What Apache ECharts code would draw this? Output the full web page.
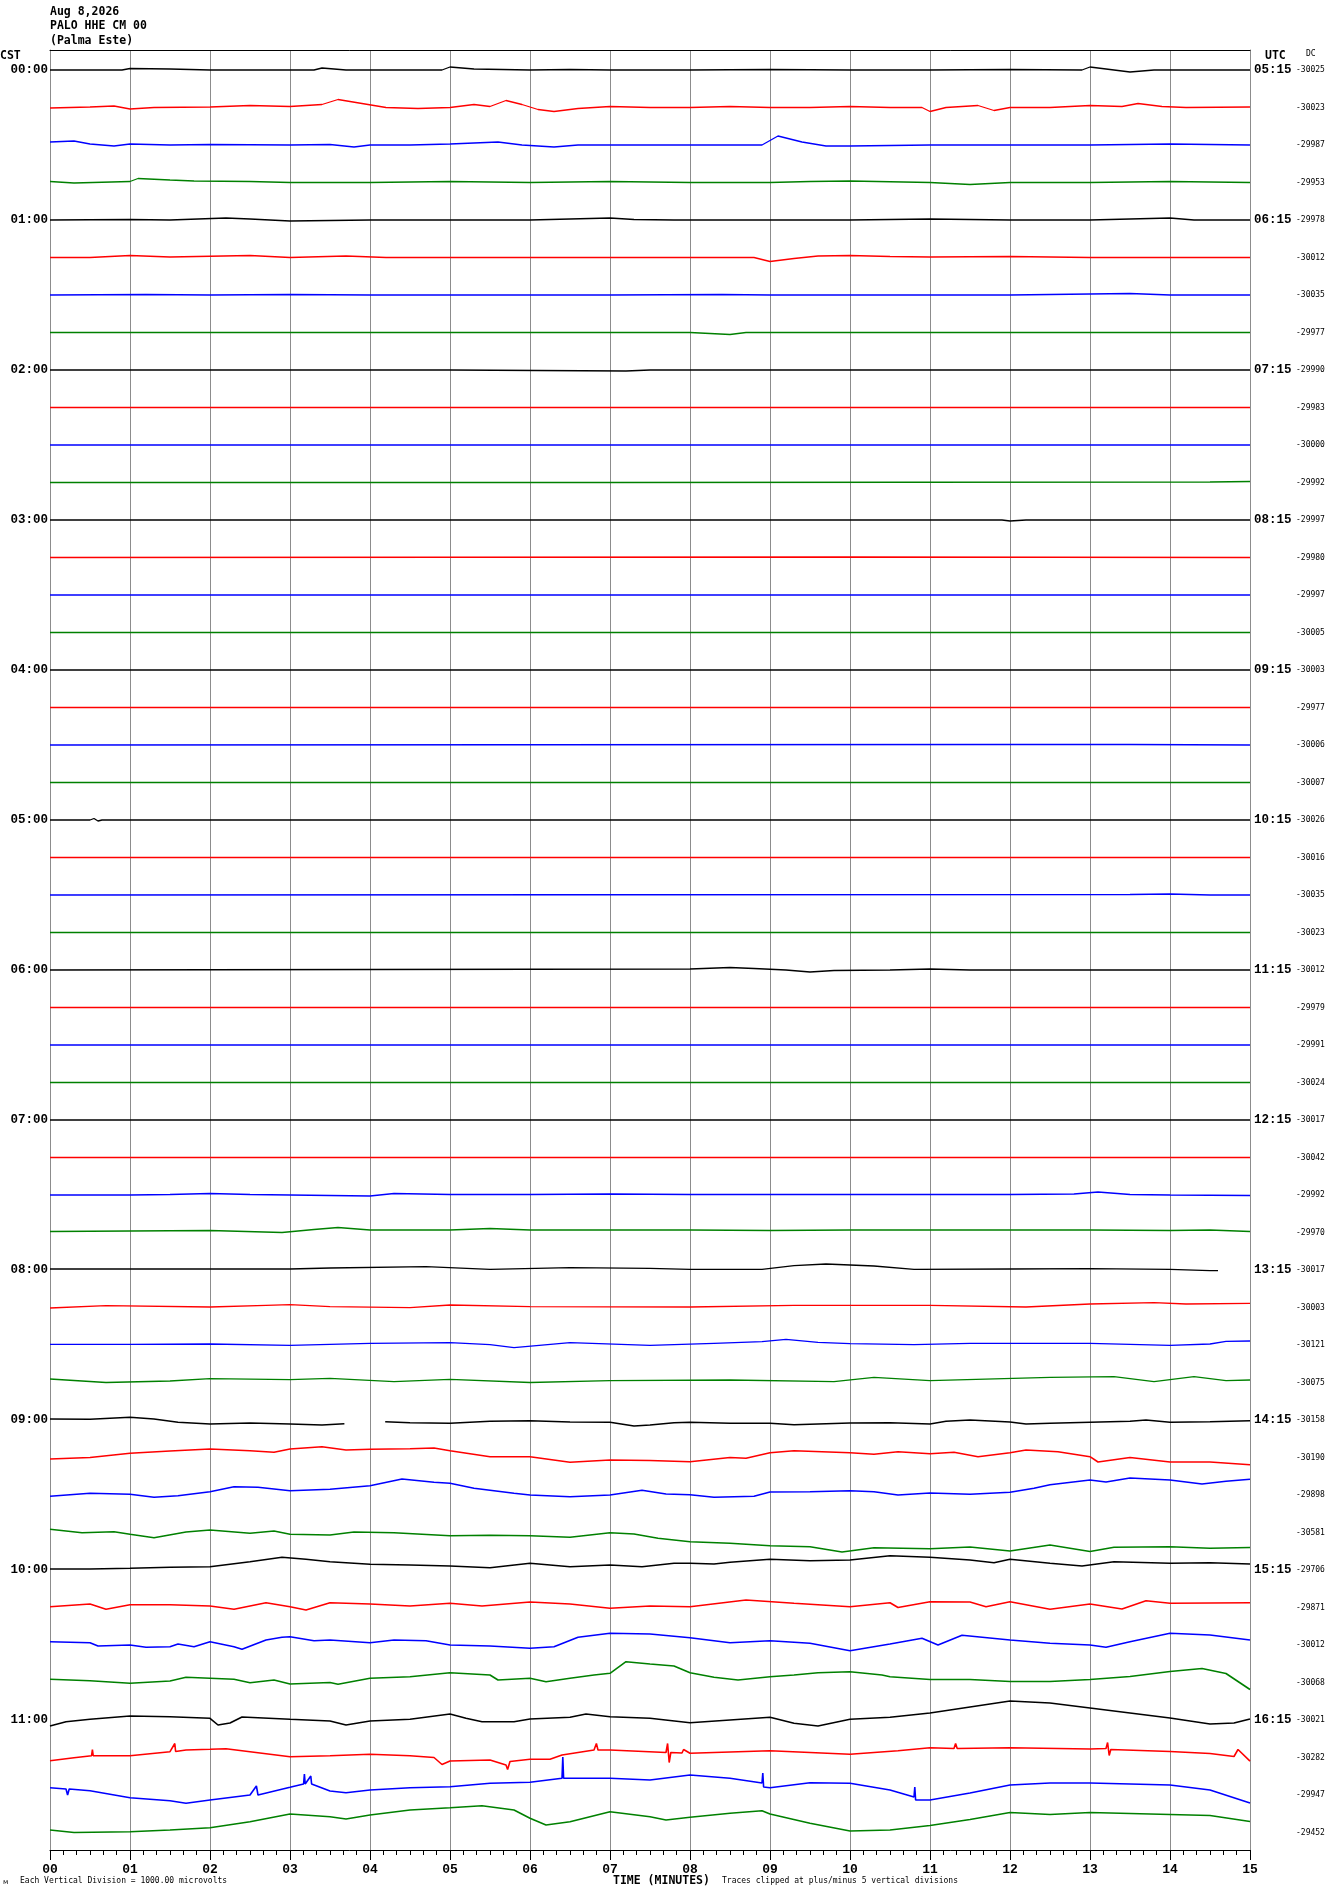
<!DOCTYPE html>
<html><head><meta charset="utf-8">
<script src="https://cdn.jsdelivr.net/npm/echarts@6/dist/echarts.min.js"></script>
<style>html,body{margin:0;padding:0;background:#fff}#c{width:1330px;height:1894px}</style>
</head><body><div id="c"></div>
<script>
// ---------- labels ----------
const minuteLabels = ['00','01','02','03','04','05','06','07','08','09','10','11','12','13','14','15'];
const cstLabels = ['00:00','01:00','02:00','03:00','04:00','05:00','06:00','07:00','08:00','09:00','10:00','11:00'];
const utcLabels = ['05:15','06:15','07:15','08:15','09:15','10:15','11:15','12:15','13:15','14:15','15:15','16:15'];
const dcValues = [-30025,-30023,-29987,-29953,-29978,-30012,-30035,-29977,-29990,-29983,-30000,-29992,
  -29997,-29980,-29997,-30005,-30003,-29977,-30006,-30007,-30026,-30016,-30035,-30023,
  -30012,-29979,-29991,-30024,-30017,-30042,-29992,-29970,-30017,-30003,-30121,-30075,
  -30158,-30190,-29898,-30581,-29706,-29871,-30012,-30068,-30021,-30282,-29947,-29452];
const traceColors = ['#000000','#ff0000','#0000ff','#008000'];

// ---------- traces: [minute, deviation] (deviation positive = downward) ----------
const tr00 = [[0,0],[0.9,0],[1.0,-1.5],[1.5,-1],[2.0,0],[2.5,0],[3.3,0],[3.4,-2],[3.7,0],[4.5,0],[4.9,0],[5.0,-3],[5.3,-1],[6.0,0],[6.5,-0.5],[7.0,0],[8.0,0],[9.0,-0.5],[10,0],[11,0],[12,-0.5],[12.9,0],[13.0,-3],[13.3,0],[13.5,2],[13.8,0],[14.5,0],[15,0]];
const tr01 = [[0,0.5],[0.5,-0.5],[0.8,-1.5],[1.0,1.5],[1.3,0],[2.0,-0.5],[2.5,-2],[3.0,-1],[3.4,-3],[3.6,-8],[3.9,-4],[4.2,0],[4.6,1],[5.0,0],[5.3,-3],[5.5,-1],[5.7,-7],[5.9,-3],[6.1,2],[6.3,4],[6.6,1],[7.0,-1],[7.5,0],[8.0,0],[8.5,-1],[9.0,0],[9.5,0],[10.0,-1],[10.5,0],[10.9,0],[11.0,4],[11.2,0],[11.6,-2],[11.8,3],[12.0,0],[12.5,0],[13.0,-2],[13.4,-1],[13.6,-4],[13.9,-1],[14.2,0],[15,-0.5]];
const tr02 = [[0,-3],[0.3,-4],[0.5,-1],[0.8,1],[1.0,-1],[1.5,0],[2.0,-0.5],[3.0,0],[3.5,-0.5],[3.8,2],[4.0,0],[4.5,0],[5.0,-1],[5.6,-3],[5.9,0],[6.3,2],[6.6,0],[7.0,0],[8.0,0],[8.9,0],[9.1,-9],[9.4,-3],[9.7,1],[10,1],[11,0],[12,0],[13,0],[14,-1],[15,0]];
const tr03 = [[0,-1],[0.3,0.5],[1.0,-1],[1.1,-4],[1.5,-2.5],[1.8,-1.5],[2.5,-1],[3.0,0],[4,0],[5,-1],[6,0],[7,-1],[8,0],[9,0],[9.5,-1],[10,-1.5],[11,0],[11.5,2],[12,0],[13,0],[14,-1],[15,0]];
const tr04 = [[0,0],[1,-0.5],[1.5,0],[2.2,-2],[2.5,-1],[3,1],[4,0],[5,0],[6,0],[7.0,-2],[7.3,-0.5],[7.8,0],[9,0],[10,0],[11,-1],[12,0],[13,0],[14,-2],[14.3,0],[15,0]];
const tr05 = [[0,0],[0.5,0],[1.0,-2],[1.5,-0.5],[2.5,-2],[3.0,0],[3.7,-1.5],[4.2,0],[5,0],[6,0],[7,0],[8,0],[8.8,0],[9.0,4],[9.3,1],[9.6,-1.5],[10,-2],[10.5,-1],[11,-0.5],[12,-1],[13,0],[14,0],[15,0]];
const tr06 = [[0,0],[1.2,-0.5],[2,0],[3,-0.5],[4,0],[5,0],[6,0],[7,0],[8.4,-0.5],[9,0],[10,0],[11,0],[12,0],[13.5,-1.5],[14,0],[15,0]];
const tr07 = [[0,0],[2,0],[4,0],[6,0],[8,0],[8.5,2],[8.7,0],[10,0],[12,0],[14,0],[15,0]];
const tr08 = [[0,0],[5,0],[7.2,1],[7.5,0],[15,0]];
const tr09 = [[0,0],[7,0],[15,0]];
const tr10 = [[0,0],[7,0],[15,0]];
const tr11 = [[0,0],[7,0],[14.5,-0.5],[15,-1]];
const tr12 = [[0,0],[11.9,0],[12,1],[12.2,0],[15,0]];
const tr13 = [[0,0],[10,-0.5],[15,0]];
const tr14 = [[0,0],[7,0],[15,0]];
const tr15 = [[0,0],[7,0],[15,0]];
const tr16 = [[0,0],[7,0],[15,0]];
const tr17 = [[0,0],[7,0],[15,0]];
const tr18 = [[0,0],[12,-0.5],[13.5,-0.5],[15,0]];
const tr19 = [[0,0],[7,0],[15,0]];
const tr20 = [[0,0],[0.5,0],[0.55,-1.5],[0.6,1],[0.65,0],[15,0]];
const tr21 = [[0,0],[7,0],[15,0]];
const tr22 = [[0,0],[13.5,-0.5],[14,-1],[14.5,0],[15,0]];
const tr23 = [[0,0],[7,0],[15,0]];
const tr24 = [[0,0],[8,-1],[8.5,-2.5],[8.8,-1.5],[9.2,0],[9.5,2],[9.8,0.5],[10.5,0],[11,-1],[11.5,0],[15,0]];
const tr25 = [[0,0],[7,0],[15,0]];
const tr26 = [[0,0],[7,0],[15,0]];
const tr27 = [[0,0],[7,0],[15,0]];
const tr28 = [[0,0],[7,0],[15,0]];
const tr29 = [[0,0],[7,0],[15,0]];
const tr30 = [[0,0],[1,0],[1.5,-0.5],[2,-1.5],[2.5,-0.5],[3,0],[4,1],[4.3,-1.5],[5,-0.5],[6,-0.5],[7,-1],[8,-0.5],[9,-0.5],[10,-0.5],[11,-0.5],[12,-0.5],[12.8,-1],[13.1,-3],[13.5,-0.5],[14,0],[15,0.5]];
const tr31 = [[0,-1],[1,-1.5],[2,-2],[2.9,0],[3.3,-3],[3.6,-5],[4.0,-2.5],[5,-2.5],[5.5,-4],[6,-2.5],[7,-2.5],[8,-2.5],[9,-2],[10,-2.5],[11,-2.5],[12,-2.5],[13,-2.5],[14,-2],[14.5,-2.5],[15,-1]];
const tr32 = [[0,-1],[3.0,-1],[3.5,-2],[4.7,-3.3],[5.5,-0.7],[6.5,-2.3],[7.5,-1.7],[8.0,-0.7],[8.9,-0.7],[9.3,-4.3],[9.7,-6],[10.3,-4],[10.8,-0.7],[12,-1],[13,-1.3],[14,-0.7],[14.5,0.7],[14.6,0.7]];
const tr33 = [[0,0.5],[0.7,-1.8],[2.0,-0.5],[2.7,-2.2],[3.0,-2.8],[3.5,-0.8],[4.5,0.2],[5.0,-2.5],[6.0,-0.8],[8.0,-0.5],[9.3,-2.2],[11.0,-2.2],[12.2,-0.5],[13,-3.5],[13.8,-4.8],[14.2,-3.5],[15,-4.2]];
const tr34 = [[0,-0.7],[1,-0.7],[2,-1],[3,0.3],[4,-1.7],[5,-2.3],[5.5,-0.3],[5.8,2.7],[6.5,-2.3],[7.5,0.3],[8.3,-1.7],[8.9,-3.3],[9.2,-5.7],[9.6,-2.7],[10.0,-1.3],[10.8,-0.3],[11.5,-1.7],[13,-1.7],[14,0.3],[14.5,-1],[14.7,-3.7],[15,-4]];
const tr35 = [[0,-3.5],[0.7,0],[1.5,-1.5],[2.0,-3.8],[3.0,-2.8],[3.5,-4.2],[4.3,-0.8],[5.0,-3.2],[6.0,0],[7.0,-1.8],[8.5,-2.5],[9.8,-0.8],[10.3,-5.2],[11.0,-1.8],[12.5,-5.2],[13.3,-5.8],[13.8,-0.8],[14.3,-5.8],[14.7,-1.8],[15,-2.5]];
const tr36 = [[0,-1],[0.5,-0.7],[1.0,-2.7],[1.3,-1],[1.6,2.3],[2.0,4],[2.5,3],[3.0,4],[3.4,5],[3.68,3.7],[3.9,'-'],[4.19,1.7],[4.5,2.7],[5.0,3.3],[5.5,1.3],[6.0,0.7],[6.5,2],[7.0,2.3],[7.3,6],[7.5,5],[7.8,2.7],[8.0,2.3],[8.5,3.3],[9.0,3.3],[9.3,4.7],[9.7,3.7],[10,3],[10.5,2.7],[11,4],[11.2,1.3],[11.5,0],[12,2],[12.2,4],[12.5,3.3],[13,2.3],[13.5,1.3],[13.7,0],[14,2.3],[14.5,1.7],[15,0.7]];
const tr37 = [[0,1.5],[0.5,0],[1.0,-4.2],[1.5,-6.5],[2.0,-8.5],[2.5,-6.8],[2.8,-5.2],[3.0,-8.5],[3.4,-10.8],[3.7,-7.5],[4.0,-8.2],[4.5,-8.8],[4.8,-9.5],[5.0,-6.8],[5.5,-0.8],[6.0,-0.8],[6.5,4.8],[7.0,2.5],[7.5,3],[8.0,4.2],[8.5,0],[8.7,0.8],[9.0,-4.8],[9.3,-6.8],[10,-4.8],[10.3,-3.2],[10.6,-5.8],[11,-3.8],[11.3,-5.2],[11.6,-0.8],[12,-4.8],[12.2,-7.5],[12.6,-5.8],[13,-0.8],[13.1,4.5],[13.5,0],[14,4.5],[14.5,4.5],[15,7.2]];
const tr38 = [[0,1.3],[0.5,-1.7],[1.0,-0.7],[1.3,2.3],[1.6,0.7],[2.0,-3.3],[2.3,-8.3],[2.6,-7.7],[3.0,-4.3],[3.5,-5.7],[4.0,-9.3],[4.4,-16],[4.8,-12.7],[5.0,-11.7],[5.3,-6.7],[5.8,-1.7],[6.0,0],[6.5,1.7],[7.0,0],[7.4,-4.7],[7.7,-1],[8,-0.3],[8.3,2.3],[8.8,1.3],[9,-3],[9.5,-3.3],[10,-4.3],[10.3,-3.3],[10.6,0],[11,-2],[11.5,-0.7],[12,-2.7],[12.3,-6.7],[12.5,-10.3],[13,-15],[13.2,-13],[13.5,-17],[14,-15],[14.4,-11],[14.7,-13.7],[15,-15.7]];
const tr39 = [[0,-3.2],[0.4,0.2],[0.8,-0.8],[1.0,1.8],[1.3,5.2],[1.7,-0.5],[2.0,-2.5],[2.5,0.8],[2.8,-1.5],[3.0,1.8],[3.5,2.5],[3.8,-0.5],[4.3,0.2],[5.0,3.2],[5.5,2.8],[6.0,3.2],[6.5,4.8],[7.0,0.2],[7.3,1.5],[7.6,5.8],[8,9.2],[8.5,10.8],[9,13.2],[9.5,14.2],[9.9,19.5],[10.3,15.2],[11,16.2],[11.5,14.5],[12,18.5],[12.5,12.5],[13,19],[13.3,14.8],[14,14.2],[14.5,15.8],[15,15]];
const tr40 = [[0,-1],[0.5,-1],[1.0,-1.7],[1.5,-2.7],[2.0,-3.3],[2.5,-8.3],[2.9,-12.7],[3.2,-10.7],[3.5,-8.3],[4.0,-5.7],[4.5,-5],[5.0,-4],[5.5,-2.3],[6.0,-6.7],[6.5,-3.3],[7.0,-5],[7.4,-3.3],[7.8,-6.7],[8.0,-6.7],[8.3,-6],[8.5,-7.7],[9,-10.7],[9.5,-9.3],[10,-10],[10.5,-14.3],[11,-12.7],[11.5,-10],[11.8,-7.3],[12,-10.7],[12.5,-6.7],[12.9,-4],[13.3,-8.3],[14,-6.7],[14.5,-7.3],[15,-6]];
const tr41 = [[0,-0.8],[0.5,-3.5],[0.7,1.8],[1.0,-2.8],[1.5,-2.8],[2.0,-1.5],[2.3,1.8],[2.7,-4.8],[3.0,-0.8],[3.2,2.5],[3.5,-4.8],[4.0,-3.5],[4.5,-1.5],[5.0,-4.2],[5.4,-1.5],[6.0,-5.5],[6.5,-3.5],[7.0,0.8],[7.5,-1.5],[8,-0.8],[8.7,-7.5],[9.3,-4.2],[10,-0.8],[10.5,-4.8],[10.6,0],[11,-5.8],[11.5,-5.5],[11.7,-0.8],[12,-5.8],[12.5,1.8],[13,-3.5],[13.4,1.5],[13.7,-6.8],[14,-4.2],[15,-4.8]];
const tr42 = [[0,-3.3],[0.5,-2.3],[0.6,1],[1.0,0],[1.2,2.3],[1.5,1.7],[1.6,-1],[1.8,1.7],[2.0,-3.3],[2.3,1.7],[2.4,4.3],[2.7,-5],[2.9,-7.7],[3.0,-8.3],[3.3,-4.3],[3.5,-5],[4.0,-2.3],[4.3,-5],[4.7,-4.3],[5.0,0],[5.5,1],[6.0,3.3],[6.3,1.7],[6.6,-7.7],[7.0,-11.7],[7.5,-11],[8,-7.3],[8.5,-2.3],[9,-4.3],[9.5,-1.7],[10,5.7],[10.5,-1],[10.9,-6.7],[11.1,0],[11.4,-9.7],[12,-5],[12.5,-1.7],[13,0],[13.2,2.3],[13.5,-3.3],[14,-11.7],[14.5,-10],[15,-5]];
const tr43 = [[0,-3.2],[0.5,-1.8],[1.0,0.8],[1.5,-1.5],[1.7,-5.2],[2.0,-4.2],[2.3,-3.2],[2.5,0.2],[2.8,-2.5],[3.0,1.5],[3.5,0],[3.6,1.8],[4.0,-4.2],[4.5,-5.8],[5.0,-9.8],[5.5,-7.5],[5.6,-2.5],[6.0,-4.2],[6.2,-0.8],[6.5,-4.2],[6.8,-7.5],[7.0,-9.2],[7.2,-20.8],[7.5,-18.5],[7.8,-16.5],[8.0,-9.8],[8.3,-5.2],[8.6,-2.5],[9.0,-5.8],[9.3,-7.5],[9.6,-9.8],[10,-10.8],[10.4,-7.5],[10.5,-5.8],[11,-3],[11.5,-3],[12,-1],[12.5,-1],[13,-3],[13.5,-6],[14,-11],[14.4,-14],[14.7,-9],[15,7]];
const tr44 = [[0,6],[0.2,1.7],[0.5,-0.7],[1.0,-4],[1.5,-3.3],[2.0,-1.7],[2.1,5],[2.25,3],[2.4,-3],[3.0,-0.7],[3.5,1],[3.7,5],[4.0,1],[4.5,-0.7],[5.0,-6],[5.2,-1.7],[5.4,1.7],[5.8,1.7],[6.0,-1],[6.5,-2.7],[6.7,-6],[7.0,-3.3],[7.5,-1.7],[8.0,2.7],[8.5,0],[9.0,-2.7],[9.3,3.3],[9.6,6],[10,-0.7],[10.5,-2.7],[11,-7],[11.5,-13],[12,-19],[12.5,-17],[13,-12],[13.5,-7],[14,-2],[14.5,4],[14.8,3],[15,-1]];
const tr45 = [[0,3.2],[0.3,0.2],[0.52,-1.8],[0.53,-8],[0.54,-1.8],[1.0,-1.8],[1.5,-5.8],[1.56,-14],[1.57,-6],[1.7,-7.5],[2.0,-8.2],[2.2,-8.8],[2.6,-4.8],[3.0,-0.8],[3.5,-1.8],[4.0,-3.2],[4.5,-1.8],[4.8,0],[4.9,7],[5.0,3.5],[5.5,2.5],[5.7,7.5],[5.72,12],[5.75,4],[6.0,1.8],[6.25,1.8],[6.4,-2.5],[6.8,-7.5],[6.83,-14],[6.85,-7.5],[7.0,-7.5],[7.7,-5],[7.72,-14],[7.74,5],[7.76,-5],[7.9,-4.5],[7.92,-8],[8.0,-4.2],[9.0,-6.8],[10,-3.2],[10.6,-6.8],[11,-9.7],[11.3,-9],[11.32,-14],[11.34,-9],[12,-9.7],[13,-8.5],[13.2,-9],[13.22,-15],[13.24,-2],[13.26,-8],[14,-6],[14.5,-4],[14.8,-1],[14.85,-8],[15,3.6]];
const tr46 = [[0,-7.3],[0.2,-6],[0.22,0],[0.24,-6],[0.5,-4.3],[1.0,2.7],[1.5,5.7],[1.7,8.3],[2.0,5],[2.5,0],[2.58,-9],[2.6,0],[3.0,-7.7],[3.17,-11],[3.18,-21],[3.19,-11],[3.26,-19],[3.27,-11],[3.5,-4],[3.7,-2.3],[4.0,-5],[4.5,-7.3],[5.0,-8.3],[5.5,-11.7],[6.0,-12.7],[6.4,-16.7],[6.41,-38],[6.42,-16.7],[7,-16.7],[7.5,-15],[8,-20],[8.5,-16.7],[8.9,-12],[8.91,-22],[8.92,-8],[9,-7.3],[9.5,-12.3],[10,-11.7],[10.5,-5],[10.8,2],[10.81,-8],[10.82,5],[11,5],[11.5,-2],[12,-10],[12.5,-12],[13,-12],[13.5,-11],[14,-10],[14.5,-5],[15,8]];
const tr47 = [[0,-2.5],[0.3,0],[1.0,-0.8],[1.5,-2.5],[2.0,-4.8],[2.5,-10.8],[3.0,-18.5],[3.5,-15.8],[3.7,-13.5],[4.0,-17.5],[4.5,-22.5],[5.0,-24.8],[5.4,-26.8],[5.8,-22.5],[6.0,-14.2],[6.2,-7.5],[6.5,-10.8],[7.0,-20.8],[7.5,-15.8],[7.7,-12.5],[8.0,-15.2],[8.5,-19.2],[8.9,-21.8],[9.0,-18.5],[9.5,-9.2],[10,-1.5],[10.5,-2.5],[11,-7],[11.5,-13],[12,-20],[12.5,-18],[13,-20],[13.5,-19],[14,-18],[14.5,-17],[15,-11]];

const traces = [tr00,tr01,tr02,tr03,tr04,tr05,tr06,tr07,tr08,tr09,tr10,tr11,tr12,tr13,tr14,tr15,
  tr16,tr17,tr18,tr19,tr20,tr21,tr22,tr23,tr24,tr25,tr26,tr27,tr28,tr29,tr30,tr31,
  tr32,tr33,tr34,tr35,tr36,tr37,tr38,tr39,tr40,tr41,tr42,tr43,tr44,tr45,tr46,tr47];

// ---------- layout ----------
const ROW_TOP = 20, ROW_STEP = 37.5, Y_MAX = 1800;
const rowPos = traces.map((_, i) => ROW_TOP + ROW_STEP * i);
const hourPos = cstLabels.map((_, i) => ROW_TOP + ROW_STEP * 4 * i);
const rowIndex = v => Math.round((v - ROW_TOP) / ROW_STEP);

const chart = echarts.init(document.getElementById('c'), null, {renderer: 'canvas'});

const series = traces.map((tr, i) => ({
  type: 'line', xAxisIndex: 0, yAxisIndex: 0,
  data: tr.map(p => [p[0], p[1] === '-' ? '-' : rowPos[i] + p[1]]),
  symbol: 'none', showSymbol: false, silent: true, connectNulls: false,
  lineStyle: {color: traceColors[i % 4], width: i >= 36 ? 1.6 : 1.3},
  itemStyle: {color: traceColors[i % 4]},
  z: 3
}));

const monoB = 'Liberation Mono';
const smallFont = 'DejaVu Sans Mono';

chart.setOption({
  animation: false,
  backgroundColor: '#ffffff',
  grid: {left: 50, top: 50, width: 1200, height: 1800, outerBoundsMode: 'none', containLabel: false},
  xAxis: [{
    type: 'value', min: 0, max: 15, interval: 1, position: 'bottom',
    axisLine: {show: true, onZero: false, lineStyle: {color: '#000', width: 1}},
    axisTick: {show: true, length: 10, inside: false, lineStyle: {color: '#000', width: 1}},
    minorTick: {show: true, splitNumber: 6, length: 5, lineStyle: {color: '#000', width: 1}},
    axisLabel: {show: true, margin: 13, color: '#000', fontFamily: monoB, fontWeight: 'bold', fontSize: 13,
      lineHeight: 13, showMinLabel: true, showMaxLabel: true,
      formatter: v => minuteLabels[Math.round(v)]},
    splitLine: {show: true, lineStyle: {color: '#8c8c8c', width: 1}},
    minorSplitLine: {show: false}
  }, {
    type: 'value', min: 0, max: 15, interval: 1, position: 'top',
    axisLine: {show: true, onZero: false, lineStyle: {color: '#000', width: 1}},
    axisTick: {show: false}, axisLabel: {show: false}, splitLine: {show: false}
  }],
  yAxis: [{
    type: 'value', min: 0, max: Y_MAX, inverse: true, position: 'left',
    axisLine: {show: true, onZero: false, lineStyle: {color: '#8c8c8c', width: 1}},
    axisTick: {show: false}, splitLine: {show: false},
    axisLabel: {show: true, customValues: hourPos, margin: 2, color: '#000', fontFamily: monoB,
      fontWeight: 'bold', fontSize: 12.5, formatter: v => cstLabels[Math.round(rowIndex(v) / 4)]}
  }, {
    type: 'value', min: 0, max: Y_MAX, inverse: true, position: 'right',
    axisLine: {show: true, onZero: false, lineStyle: {color: '#8c8c8c', width: 1}},
    axisTick: {show: false}, splitLine: {show: false},
    axisLabel: {show: true, customValues: hourPos, margin: 4, color: '#000', fontFamily: monoB,
      fontWeight: 'bold', fontSize: 12.5, formatter: v => utcLabels[Math.round(rowIndex(v) / 4)]}
  }, {
    type: 'value', min: 0, max: Y_MAX, inverse: true, position: 'right', offset: 44,
    axisLine: {show: false}, axisTick: {show: false}, splitLine: {show: false},
    axisLabel: {show: true, customValues: rowPos, margin: 2, color: '#000', fontFamily: smallFont,
      fontSize: 8, formatter: v => String(dcValues[rowIndex(v)])}
  }],
  graphic: [
    {type: 'text', left: 50, top: 6, style: {text: 'Aug 8,2026', font: 'bold 11.5px "DejaVu Sans Mono"', fill: '#000'}},
    {type: 'text', left: 50, top: 20, style: {text: 'PALO HHE CM 00', font: 'bold 11.5px "DejaVu Sans Mono"', fill: '#000'}},
    {type: 'text', left: 50, top: 35, style: {text: '(Palma Este)', font: 'bold 11.5px "DejaVu Sans Mono"', fill: '#000'}},
    {type: 'text', left: 0, top: 50, style: {text: 'CST', font: 'bold 11.5px "DejaVu Sans Mono"', fill: '#000'}},
    {type: 'text', left: 1265, top: 50, style: {text: 'UTC', font: 'bold 11.5px "DejaVu Sans Mono"', fill: '#000'}},
    {type: 'text', left: 1306, top: 50, style: {text: 'DC', font: '8px "DejaVu Sans Mono"', fill: '#000'}},
    {type: 'text', left: 3, top: 1879, style: {text: 'ᴍ', font: '7px "DejaVu Sans"', fill: '#000'}},
    {type: 'text', left: 20, top: 1877, style: {text: 'Each Vertical Division = 1000.00 microvolts', font: '8px "DejaVu Sans Mono"', fill: '#000'}},
    {type: 'text', left: 613, top: 1875, style: {text: 'TIME (MINUTES)', font: 'bold 11.5px "DejaVu Sans Mono"', fill: '#000'}},
    {type: 'text', left: 722, top: 1877, style: {text: 'Traces clipped at plus/minus 5 vertical divisions', font: '8px "DejaVu Sans Mono"', fill: '#000'}}
  ],
  series: series
});
</script>
</body></html>
